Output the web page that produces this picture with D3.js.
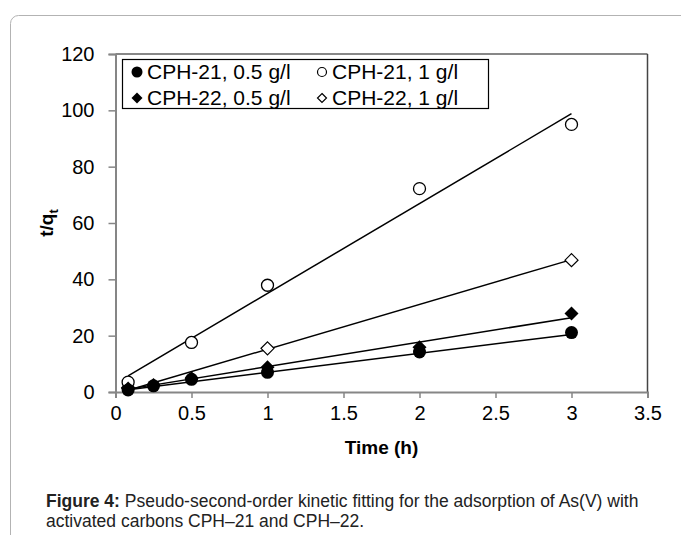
<!DOCTYPE html>
<html>
<head>
<meta charset="utf-8">
<script src="https://cdn.jsdelivr.net/npm/d3@7"></script>
<style>
  body { margin: 0; background: #fff; }
  svg { display: block; font-family: "Liberation Sans", Arial, sans-serif; }
</style>
</head>
<body>
<svg width="681" height="535"></svg>
<script>
// data
const seriesNames = ["CPH-21, 0.5 g/l", "CPH-21, 1 g/l", "CPH-22, 0.5 g/l", "CPH-22, 1 g/l"];
const timeA = [0.083, 0.25, 0.5, 1, 2, 3];
const cph21Half = [0.7, 2.2, 4.5, 7.0, 14.2, 21.1];
const cph22Half = [1.2, 2.5, 4.9, 8.8, 15.9, 27.9];
const timeB = [0.083, 0.5, 1, 2, 3];
const cph21One = [3.5, 17.6, 37.9, 72.2, 95.0];
const timeC = [0.083, 1, 3];
const cph22One = [1.5, 15.5, 46.8];
// linear fits (slope, intercept), drawn from first to last time
const fitSlope = [6.75, 31.9, 8.7, 15.9];
const fitIntercept = [0.2, 3.1, 0.3, -0.7];
const fitRange = [0.083, 3];
const xTicks = [0, 0.5, 1, 1.5, 2, 2.5, 3, 3.5];
const yTicks = [0, 20, 40, 60, 80, 100, 120];

const svg = d3.select("svg");

// outer rounded border of the figure box
svg.append("rect")
    .attr("x", 10.5).attr("y", 15.5)
    .attr("width", 700).attr("height", 560)
    .attr("rx", 8)
    .attr("fill", "none")
    .attr("stroke", "#b3b3b3")
    .attr("stroke-width", 1);

const pLeft = 115.5, pRight = 647.5, pTop = 54, pBottom = 392;
const x = d3.scaleLinear().domain([0, 3.5]).range([pLeft, pRight]);
const y = d3.scaleLinear().domain([0, 120]).range([pBottom, pTop]);

// plot frame top / right
svg.append("line").attr("x1", pLeft).attr("x2", pRight).attr("y1", pTop).attr("y2", pTop)
    .attr("stroke", "#111").attr("stroke-width", 1.2);
svg.append("line").attr("x1", pRight).attr("x2", pRight).attr("y1", pTop).attr("y2", pBottom)
    .attr("stroke", "#444").attr("stroke-width", 1.5);

// axes
const xAxis = svg.append("g")
    .attr("transform", `translate(0,${pBottom})`)
    .call(d3.axisBottom(x).tickValues(xTicks).tickSize(6).tickPadding(8)
        .tickFormat(d => d3.format("")(d)));
const yAxis = svg.append("g")
    .attr("transform", `translate(${pLeft},0)`)
    .call(d3.axisLeft(y).tickValues(yTicks).tickSize(7).tickPadding(14));

[xAxis, yAxis].forEach(g => {
    g.select(".domain").attr("stroke", "#868686").attr("stroke-width", 2);
    g.selectAll(".tick line").attr("stroke", "#868686").attr("stroke-width", 1.5);
    g.selectAll(".tick text")
        .attr("fill", "#000")
        .attr("font-size", 20)
        .attr("font-family", "Liberation Sans, Arial, sans-serif");
});

// axis titles
svg.append("text")
    .attr("x", (pLeft + pRight) / 2).attr("y", 454)
    .attr("text-anchor", "middle")
    .attr("font-size", 19).attr("font-weight", "bold")
    .text("Time (h)");

const yTitle = svg.append("text")
    .attr("transform", `translate(53,${(pTop + pBottom) / 2}) rotate(-90)`)
    .attr("text-anchor", "middle")
    .attr("font-size", 19).attr("font-weight", "bold");
yTitle.append("tspan").text("t/q");
yTitle.append("tspan").attr("font-size", 13).attr("dy", 5).text("t");

// fit lines
const fits = svg.append("g");
fitSlope.forEach((m, i) => {
    fits.append("line")
        .attr("x1", x(fitRange[0])).attr("y1", y(m * fitRange[0] + fitIntercept[i]))
        .attr("x2", x(fitRange[1])).attr("y2", y(m * fitRange[1] + fitIntercept[i]))
        .attr("stroke", "#000").attr("stroke-width", 1.5);
});

const diamond = s => `M0,${-s}L${s},0L0,${s}L${-s},0Z`;

function drawPoints(xs, ys, kind, filled) {
    const g = svg.append("g");
    xs.forEach((t, i) => {
        const px = x(t), py = y(ys[i]);
        if (kind === "circle") {
            g.append("circle").attr("cx", px).attr("cy", py).attr("r", filled ? 6.5 : 6)
                .attr("fill", filled ? "#000" : "#fff")
                .attr("stroke", "#000").attr("stroke-width", filled ? 0 : 1.3);
        } else {
            g.append("path").attr("d", diamond(filled ? 7 : 6.5))
                .attr("transform", `translate(${px},${py})`)
                .attr("fill", filled ? "#000" : "#fff")
                .attr("stroke", "#000").attr("stroke-width", filled ? 0 : 1.2);
        }
    });
}

drawPoints(timeC, cph22One, "diamond", false);
drawPoints(timeB, cph21One, "circle", false);
drawPoints(timeA, cph22Half, "diamond", true);
drawPoints(timeA, cph21Half, "circle", true);

// legend
const legend = svg.append("g");
legend.append("rect")
    .attr("x", 122.5).attr("y", 59.5).attr("width", 366).attr("height", 49)
    .attr("fill", "#fff").attr("stroke", "#000").attr("stroke-width", 1.2);
const legendPos = [[137, 72], [322, 72], [137, 98], [322, 98]];
const legendKind = [["circle", true], ["circle", false], ["diamond", true], ["diamond", false]];
seriesNames.forEach((name, i) => {
    const [lx, ly] = legendPos[i];
    const [kind, filled] = legendKind[i];
    if (kind === "circle") {
        legend.append("circle").attr("cx", lx).attr("cy", ly).attr("r", filled ? 5.5 : 4.5)
            .attr("fill", filled ? "#000" : "#fff")
            .attr("stroke", "#000").attr("stroke-width", filled ? 0 : 1.2);
    } else {
        legend.append("path").attr("d", diamond(filled ? 5.5 : 4.5))
            .attr("transform", `translate(${lx},${ly})`)
            .attr("fill", filled ? "#000" : "#fff")
            .attr("stroke", "#000").attr("stroke-width", filled ? 0 : 1.2);
    }
    legend.append("text")
        .attr("x", lx + 10).attr("y", ly + 7)
        .attr("font-size", 21)
        .text(name);
});

// caption
const cap = svg.append("text")
    .attr("x", 46).attr("y", 507)
    .attr("font-size", 17.5).attr("fill", "#222");
cap.append("tspan").attr("font-weight", "bold").text("Figure 4:");
cap.append("tspan").text(" Pseudo-second-order kinetic fitting for the adsorption of As(V) with");
svg.append("text")
    .attr("x", 46).attr("y", 527)
    .attr("font-size", 17.5).attr("fill", "#222")
    .text("activated carbons CPH\u201321 and CPH\u201322.");
</script>
</body>
</html>
